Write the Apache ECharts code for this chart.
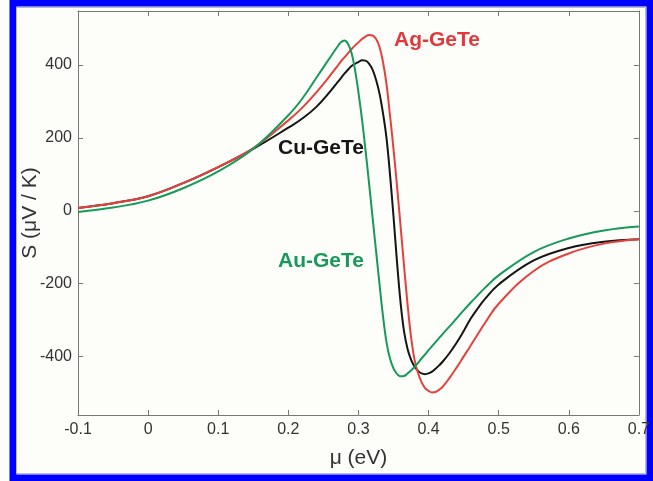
<!DOCTYPE html>
<html>
<head>
<meta charset="utf-8">
<script src="https://cdn.jsdelivr.net/npm/echarts@6/dist/echarts.min.js"></script>
<style>
html, body { margin: 0; padding: 0; background: #fdfdfa; }
#chart { width: 653px; height: 481px; }
</style>
</head>
<body>
<div id="chart"></div>
<script>
// chemical potential (eV)
const mu = [-0.1, -0.05, 0, 0.05, 0.1, 0.15, 0.2, 0.22, 0.24, 0.26, 0.27, 0.275, 0.28, 0.285, 0.29, 0.295, 0.3,
  0.305, 0.31, 0.315, 0.32, 0.325, 0.33, 0.335, 0.34, 0.345, 0.35, 0.355, 0.36, 0.365,
  0.37, 0.375, 0.38, 0.385, 0.39, 0.395, 0.4, 0.405, 0.41, 0.415, 0.42, 0.43, 0.44, 0.45,
  0.46, 0.47, 0.48, 0.5, 0.55, 0.6, 0.65, 0.7]
// Seebeck coefficient S (uV/K)
const sAu = [-3, 9, 28, 62, 108, 170, 262, 308, 365, 422, 450, 462, 467, 458, 434, 388, 325,
  252, 168, 78, -15, -108, -200, -288, -360, -405, -432, -447, -454, -453,
  -446, -438, -428, -417, -405, -394, -382, -371, -360, -349, -338, -317, -295, -273,
  -252, -232, -212, -177, -113, -76, -54, -43]
const sCu = [8, 21, 40, 76, 120, 170, 228, 253, 285, 328, 352, 364, 376, 387, 397, 403, 408,
  413, 412, 404, 388, 360, 322, 268, 200, 100, -15, -140, -250, -330,
  -378, -408, -427, -439, -446, -448, -446, -441, -433, -424, -414, -390, -362, -330,
  -296, -268, -243, -202, -136, -102, -85, -78]
const sAg = [8, 21, 40, 76, 120, 172, 248, 283, 325, 372, 397, 410, 421, 432, 443, 453, 462,
  471, 478, 482, 481, 472, 450, 408, 348, 262, 170, 68, -40, -150,
  -255, -345, -408, -445, -470, -486, -494, -498, -497, -491, -483, -458, -430, -400,
  -370, -339, -309, -255, -165, -117, -90, -78]
const xTicks = [-0.1, 0, 0.1, 0.2, 0.3, 0.4, 0.5, 0.6, 0.7]
const yTicks = [-400, -200, 0, 200, 400]

const pairs = (ys) => mu.map((x, i) => [x, ys[i]])

const axisColor = '#777'
const font = 'Liberation Sans, Arial, Helvetica, sans-serif'

const xBase = {
  type: 'value', min: -0.1, max: 0.7,
  axisLine: { show: true, onZero: false, lineStyle: { color: axisColor } },
  axisTick: { show: true, inside: true, length: 5, customValues: xTicks, lineStyle: { color: axisColor } },
  splitLine: { show: false }
}
const yBase = {
  type: 'value', min: -560, max: 548,
  axisLine: { show: true, onZero: false, lineStyle: { color: axisColor } },
  axisTick: { show: true, inside: true, length: 5, customValues: yTicks, lineStyle: { color: axisColor } },
  splitLine: { show: false }
}

const line = (name, data, color) => ({
  name, type: 'line', data: pairs(data), showSymbol: false, smooth: 0.4,
  lineStyle: { color, width: 2 }, itemStyle: { color }
})

const option = {
  backgroundColor: '#fdfdfa',
  animation: false,
  grid: { left: 78, right: 8, top: 11, bottom: 66 },
  xAxis: [
    Object.assign({}, xBase, {
      position: 'bottom',
      name: 'μ (eV)', nameLocation: 'middle', nameGap: 33, nameMoveOverlap: false,
      nameTextStyle: { fontSize: 21, color: '#333', fontFamily: font },
      axisLabel: { show: true, customValues: xTicks, margin: 7, fontSize: 16, color: '#333', fontFamily: font,
        formatter: (v) => String(Math.round(v * 10) / 10) }
    }),
    Object.assign({}, xBase, { position: 'top', axisLabel: { show: false } })
  ],
  yAxis: [
    Object.assign({}, yBase, {
      position: 'left',
      name: 'S (μV / K)', nameLocation: 'middle', nameGap: 37, nameMoveOverlap: false,
      nameTextStyle: { fontSize: 21, color: '#333', fontFamily: font },
      axisLabel: { show: true, customValues: yTicks, margin: 6, fontSize: 16, color: '#333', fontFamily: font }
    }),
    Object.assign({}, yBase, { position: 'right', axisLabel: { show: false } })
  ],
  series: [
    line('Cu-GeTe', sCu, '#151515'),
    line('Ag-GeTe', sAg, '#e5413c'),
    line('Au-GeTe', sAu, '#17995a')
  ],
  graphic: [
    { type: 'rect', silent: true, shape: { x: 13, y: 3, width: 637, height: 475 },
      style: { fill: 'none', stroke: '#0000ff', lineWidth: 7 } },
    { type: 'rect', silent: true, shape: { x: 16.5, y: 7.5, width: 629, height: 466 },
      style: { fill: 'none', stroke: '#bbb', lineWidth: 1 } },
    { type: 'text', left: 394, top: 30,
      style: { text: 'Ag-GeTe', fill: '#e0383b', font: 'bold 21px ' + font } },
    { type: 'text', left: 278, top: 138,
      style: { text: 'Cu-GeTe', fill: '#151515', font: 'bold 21px ' + font } },
    { type: 'text', left: 278, top: 251,
      style: { text: 'Au-GeTe', fill: '#17995a', font: 'bold 21px ' + font } }
  ]
}

const myChart = echarts.init(document.getElementById('chart'))
myChart.setOption(option)
window.addEventListener('resize', () => {
  myChart.resize()
})
</script>
</body>
</html>
